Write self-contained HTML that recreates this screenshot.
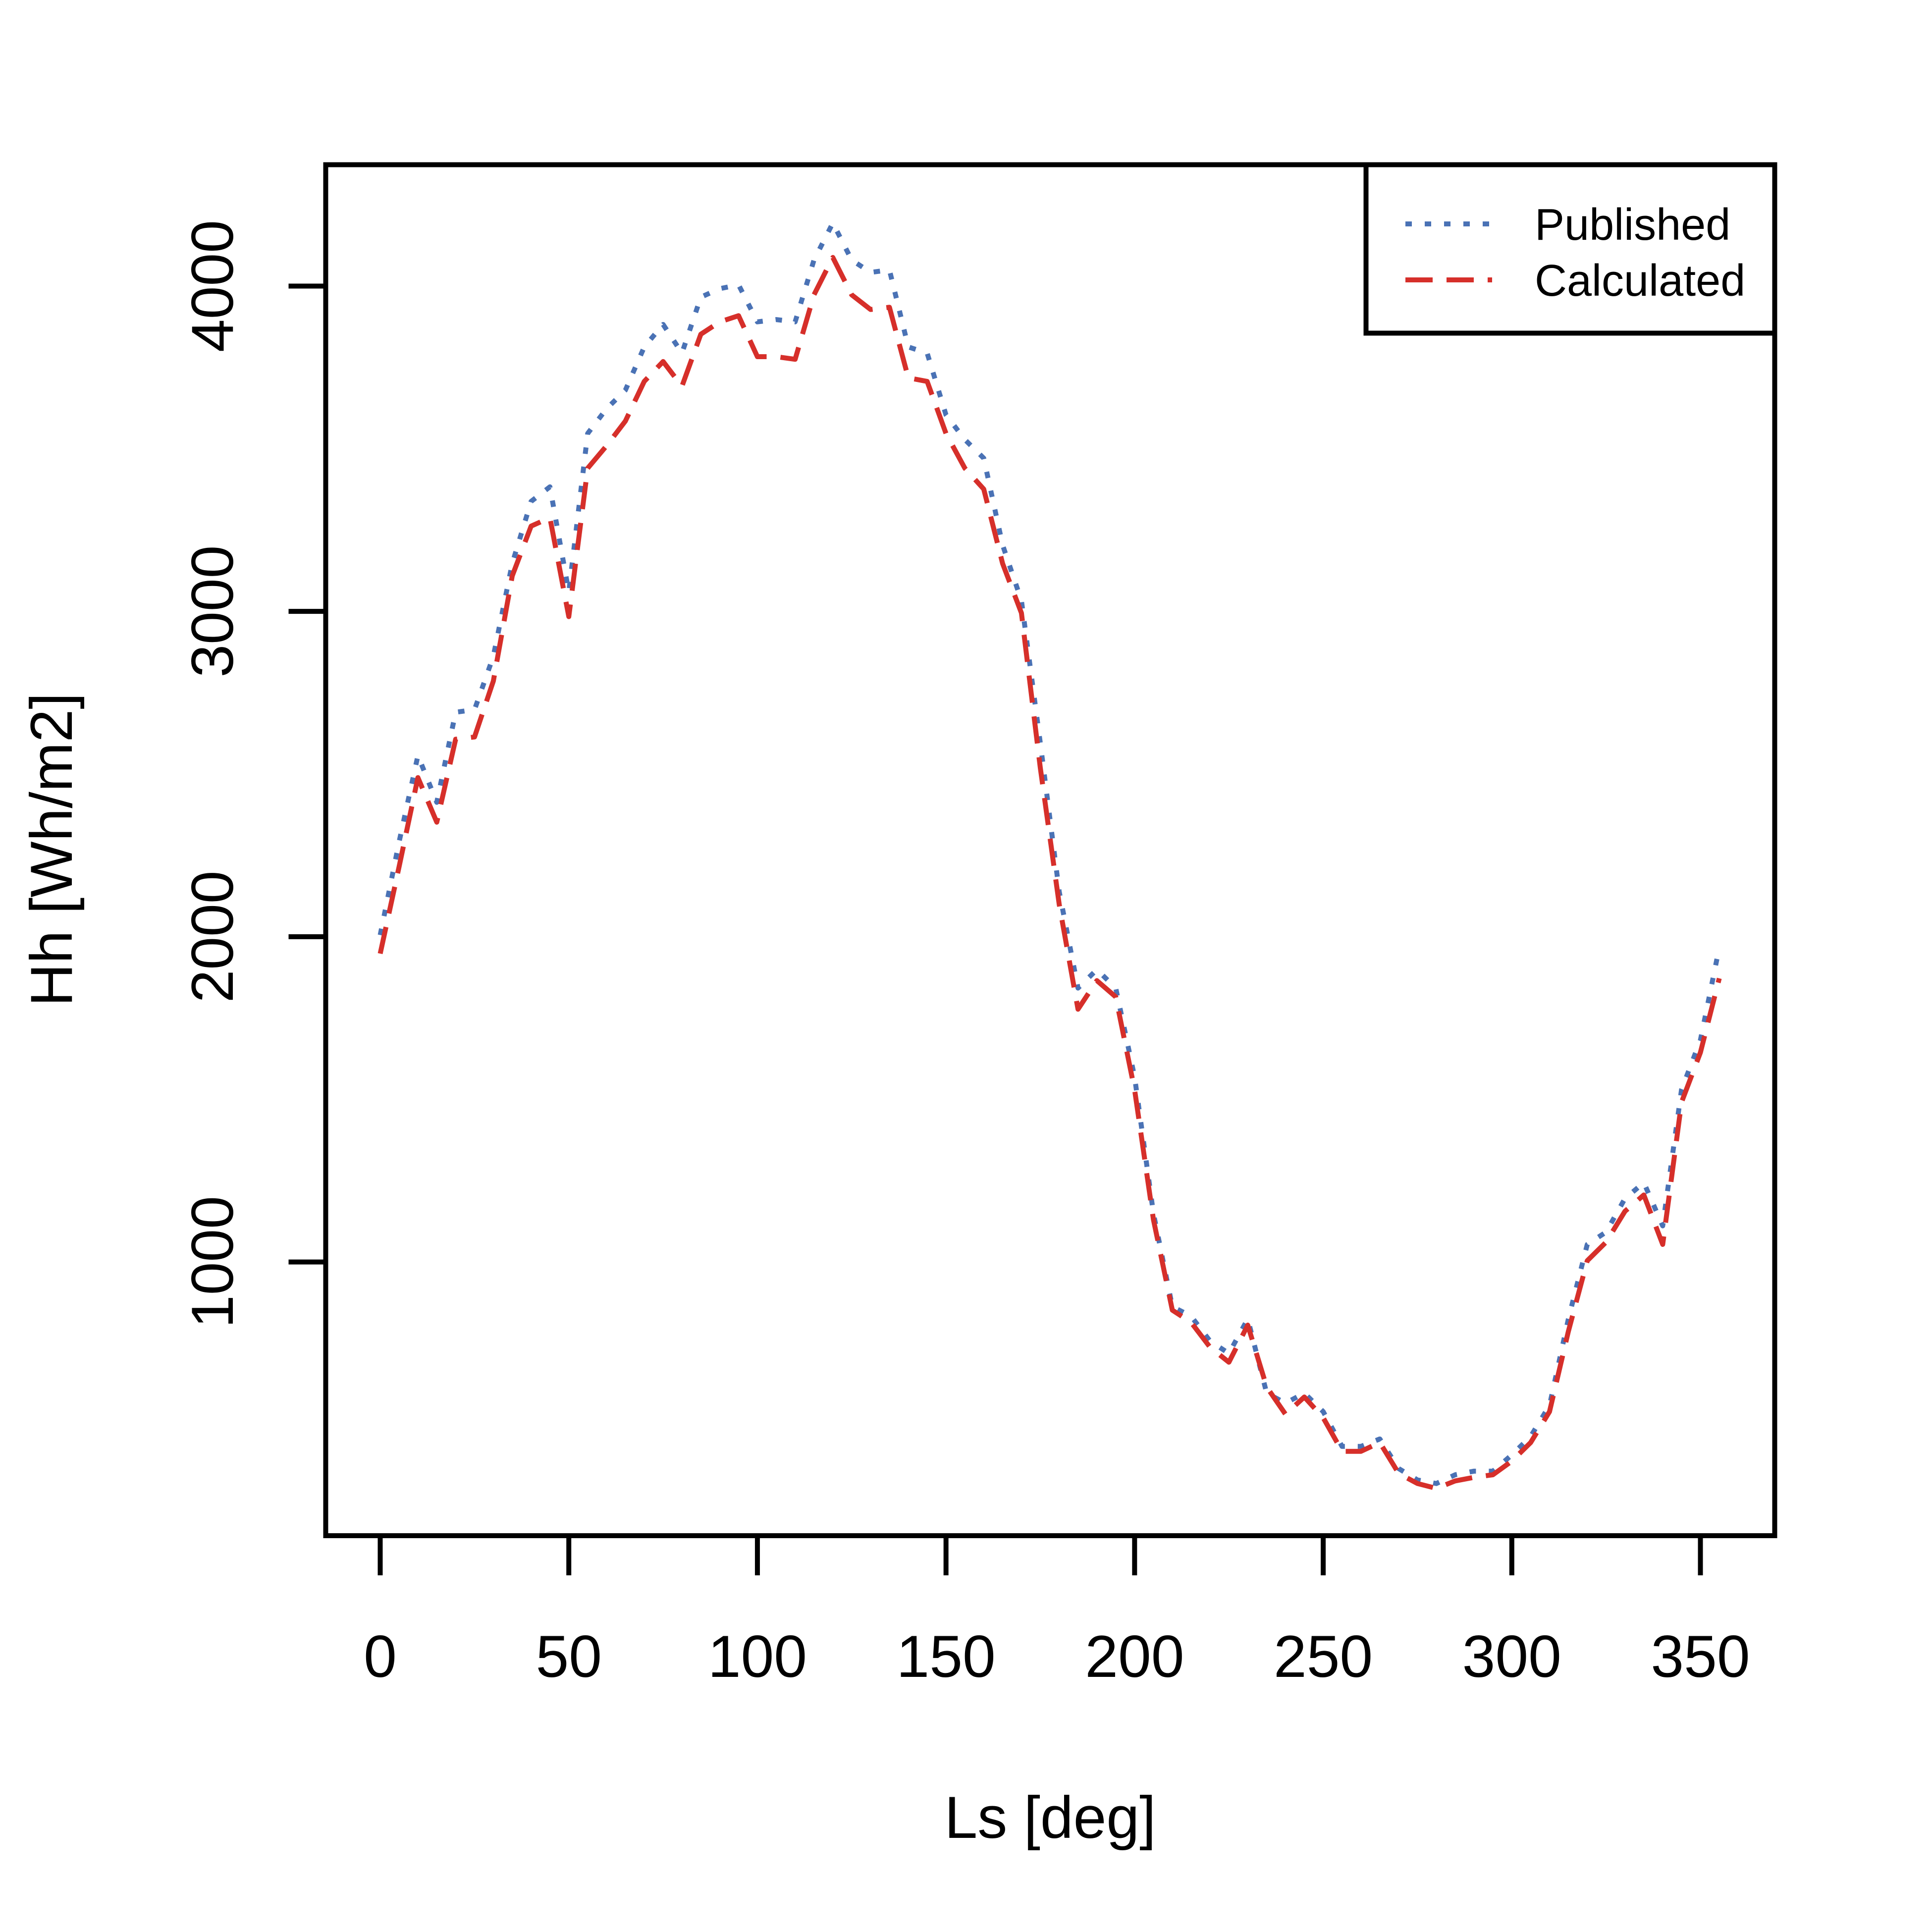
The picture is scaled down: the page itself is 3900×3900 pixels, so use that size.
<!DOCTYPE html>
<html><head><meta charset="utf-8"><style>html,body{margin:0;padding:0;background:#fff}svg{display:block}</style></head>
<body>
<svg id="chart" width="3900" height="3900" viewBox="0 0 3900 3900" xmlns="http://www.w3.org/2000/svg" font-family="'Liberation Sans', sans-serif">
<rect width="3900" height="3900" fill="#fff"/>
<g id="axes"></g>
<g id="series"></g>
<rect x="657.5" y="332.5" width="2925" height="2767.5" fill="none" stroke="#000" stroke-width="10"/>
<text x="2120" y="3710" font-size="120" text-anchor="middle">Ls [deg]</text>
<text transform="translate(145,1715) rotate(-90)" font-size="120" text-anchor="middle">Hh [Wh/m2]</text>
<g>
<rect x="2757.5" y="332.5" width="825" height="340" fill="#fff" stroke="#000" stroke-width="10"/>
<line x1="2837" y1="452" x2="3012" y2="452" stroke="#4a72b5" stroke-width="10" stroke-dasharray="13,26"/>
<text x="3098" y="484" font-size="90">Published</text>
<line x1="2837" y1="565" x2="3012" y2="565" stroke="#d62f2a" stroke-width="10" stroke-dasharray="55,28"/>
<text x="3098" y="597" font-size="90">Calculated</text>
</g>
</svg>
<script>
const lsValues = [0,5,10,15,20,25,30,35,40,45,50,55,60,65,70,75,80,85,90,95,100,105,110,115,120,125,130,135,140,145,150,155,160,165,170,175,180,185,190,195,200,205,210,215,220,225,230,235,240,245,250,255,260,265,270,275,280,285,290,295,300,305,310,315,320,325,330,335,340,345,350,355];
const publishedValues = [2005,2291,2557,2413,2690,2698,2862,3147,3338,3383,3060,3547,3623,3680,3813,3882,3794,3966,3992,4004,3890,3897,3890,4080,4194,4080,4042,4050,3813,3794,3604,3528,3471,3204,3033,2595,2139,1842,1899,1842,1568,1149,863,833,757,719,825,597,566,597,540,433,433,456,365,330,319,346,357,357,407,464,559,825,1054,1092,1195,1244,1111,1530,1682,1967];
const calculatedValues = [1948,2215,2489,2352,2607,2614,2786,3109,3262,3288,2984,3440,3509,3585,3707,3768,3692,3852,3890,3909,3783,3783,3775,3973,4088,3973,3928,3935,3718,3707,3547,3440,3376,3147,2995,2519,2100,1777,1865,1815,1529,1130,852,814,738,692,806,616,532,585,521,418,418,445,350,319,304,327,338,346,388,445,540,787,1004,1061,1156,1206,1054,1491,1644,1872];
const xTicks = [0,50,100,150,200,250,300,350];
const yTicks = [1000,2000,3000,4000];
const NS = "http://www.w3.org/2000/svg";
function xs(v){return 767.5 + v*(3432.5-767.5)/350;}
function ys(v){return 577.5 + (4000-v)*(2547.5-577.5)/3000;}
const axes = document.getElementById('axes');
function mk(tag, attrs, parent){const e=document.createElementNS(NS,tag);for(const k in attrs)e.setAttribute(k,attrs[k]);parent.appendChild(e);return e;}
const xl = mk('line',{x1:xs(0),x2:xs(350),y1:3100,y2:3100,stroke:'#000','stroke-width':10},axes);


xTicks.forEach(t=>{
  const l = mk('line',{x1:xs(t),x2:xs(t),y1:3100,y2:3180,stroke:'#000','stroke-width':10},axes);
  
  
  const tx = mk('text',{x:xs(t),y:3385,'font-size':120,'text-anchor':'middle'},axes);
  tx.textContent=t;
  
  
});
yTicks.forEach(t=>{
  const l = mk('line',{x1:582.5,x2:657.5,y1:ys(t),y2:ys(t),stroke:'#000','stroke-width':10},axes);
  
  
  const tx = mk('text',{transform:'translate(470,'+ys(t)+') rotate(-90)','font-size':120,'text-anchor':'middle'},axes);
  tx.textContent=t;
  
  
});
const series = document.getElementById('series');
function pts(vals){return lsValues.map((x,i)=>xs(x).toFixed(1)+','+ys(vals[i]).toFixed(1)).join(' ');}
const pub = mk('polyline',{points:pts(publishedValues),fill:'none',stroke:'#4a72b5','stroke-width':10,'stroke-dasharray':'13,26','stroke-linejoin':'round'},series);


const calc = mk('polyline',{points:pts(calculatedValues),fill:'none',stroke:'#d62f2a','stroke-width':10,'stroke-dasharray':'55,28','stroke-linejoin':'round'},series);


</script>
</body></html>
